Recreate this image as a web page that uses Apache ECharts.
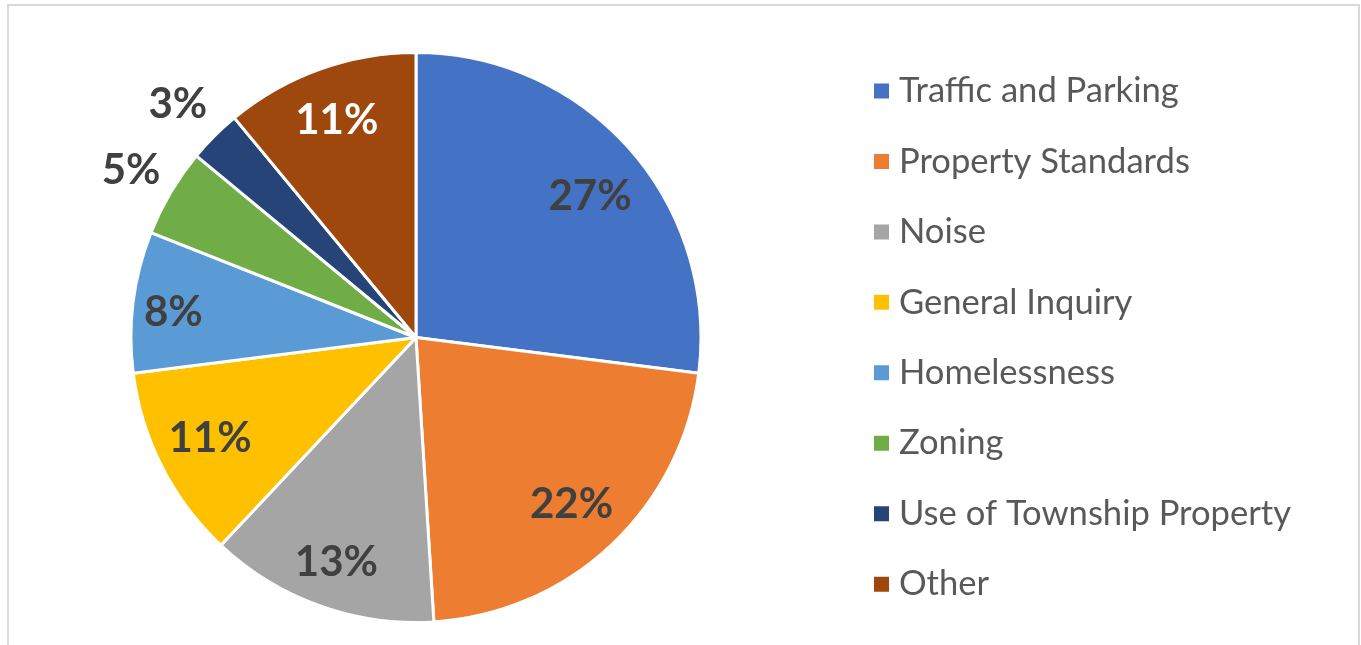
<!DOCTYPE html>
<html>
<head>
<meta charset="utf-8">
<script src="https://cdn.jsdelivr.net/npm/echarts@6/dist/echarts.min.js"></script>
<style>
  html, body { margin: 0; padding: 0; background: #fff; }
  #chart { width: 1361px; height: 645px; }
</style>
</head>
<body>
<div id="chart"></div>
<script>
// Share of service requests by topic (percent)
const categories = [
  'Traffic and Parking',
  'Property Standards',
  'Noise',
  'General Inquiry',
  'Homelessness',
  'Zoning',
  'Use of Township Property',
  'Other'
];
const shares = [27, 22, 13, 11, 8, 5, 3, 11];
const colors = ['#4472C4', '#ED7D31', '#A5A5A5', '#FFC000', '#5B9BD5', '#70AD47', '#264478', '#9E480E'];
const labelColors = ['#404040', '#404040', '#404040', '#404040', '#404040', '#404040', '#404040', '#FFFFFF'];
// distance of each value label from the centre, as a fraction of the pie radius
// (the two thin slices carry their label just outside the rim)
const labelRadiusRatio = [0.785, 0.792, 0.825, 0.80, 0.855, 1.163, 1.171, 0.81];
// small pixel nudges applied to the value labels
const labelNudge = [[4, 9], [-1, 0], [1, 1], [0, -4], [2, 6], [3, 3], [0, 5], [0, 3]];

const R = 285;
const center = [416, 337.5];

const labelFont = {
  fontFamily: 'Lato',
  fontWeight: 'bold',
  fontSize: 42
};

const mainData = categories.map((name, i) => ({
  name,
  value: shares[i],
  itemStyle: { color: colors[i] }
}));

// a transparent pie whose "inside" label for slice k lands at the wanted radius
function labelRing(k) {
  return {
    type: 'pie',
    center,
    radius: [0, R * labelRadiusRatio[k] * 2],
    startAngle: 90,
    clockwise: true,
    silent: true,
    avoidLabelOverlap: false,
    legendHoverLink: false,
    itemStyle: { color: 'rgba(0,0,0,0)', borderWidth: 0 },
    emphasis: { disabled: true },
    labelLine: { show: false },
    data: categories.map((name, i) => ({
      name,
      value: shares[i],
      itemStyle: { color: 'rgba(0,0,0,0)' },
      label: {
        show: i === k,
        position: 'inside',
        formatter: '{c}%',
        color: labelColors[i],
        offset: labelNudge[i],
        ...labelFont
      }
    }))
  };
}

const chart = echarts.init(document.getElementById('chart'), null, { renderer: 'canvas' });
chart.setOption({
  animation: false,
  backgroundColor: '#ffffff',
  graphic: [{
    type: 'rect',
    shape: { x: 8, y: 5, width: 1351, height: 700 },
    style: { fill: 'none', stroke: '#d9d9d9', lineWidth: 2 },
    silent: true,
    z: -1
  }],
  legend: {
    orient: 'vertical',
    left: 872,
    top: 73,
    padding: 0,
    itemWidth: 17,
    itemHeight: 17,
    itemGap: 34.45,
    icon: 'rect',
    data: categories,
    selectedMode: false,
    textStyle: {
      fontFamily: 'Lato',
      fontSize: 34.6,
      color: '#595959',
      lineHeight: 36,
      padding: [0, 0, 0, 4]
    }
  },
  series: [
    {
      type: 'pie',
      center,
      radius: [0, R],
      startAngle: 90,
      clockwise: true,
      avoidLabelOverlap: false,
      itemStyle: { borderColor: '#ffffff', borderWidth: 3 },
      label: { show: false },
      labelLine: { show: false },
      emphasis: { disabled: true },
      data: mainData
    }
  ].concat(categories.map((_, k) => labelRing(k)))
});
</script>
</body>
</html>
